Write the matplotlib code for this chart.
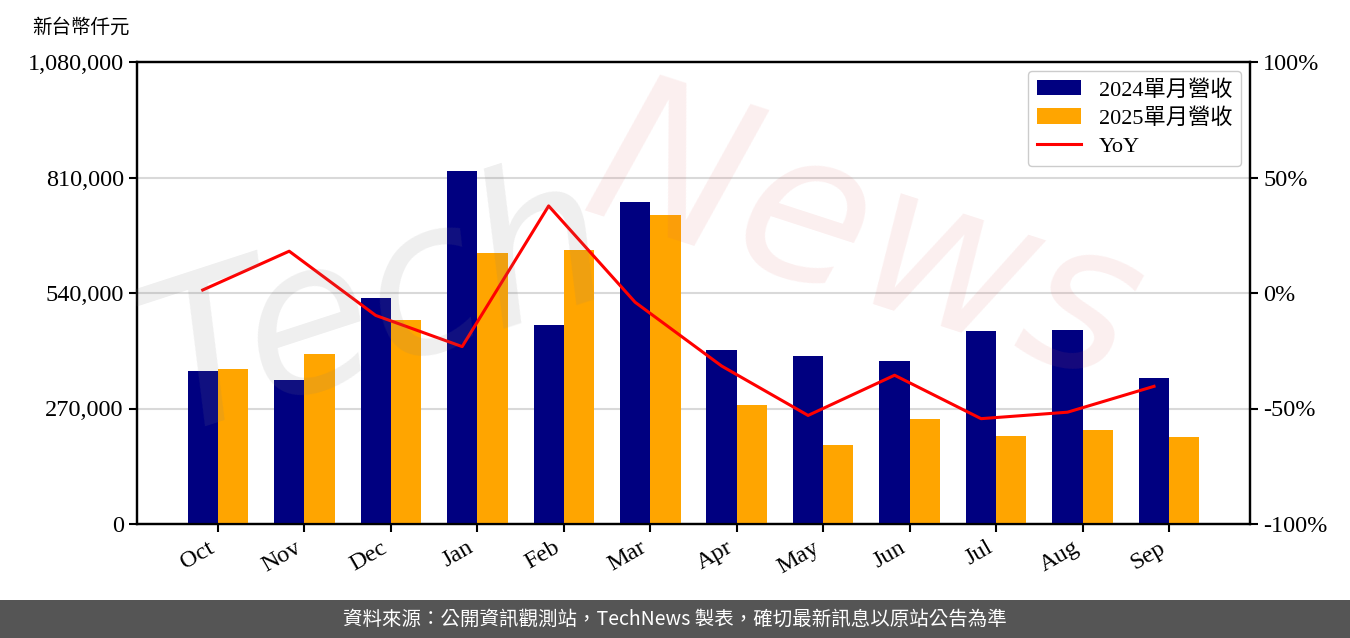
import numpy as np
import matplotlib
matplotlib.use("Agg")
import matplotlib.pyplot as plt
from matplotlib.patches import Rectangle
from matplotlib.ticker import FuncFormatter

# === 資料 ===
meses = ["Oct", "Nov", "Dec", "Jan", "Feb", "Mar", "Apr", "May", "Jun", "Jul", "Aug", "Sep"]
receita_2024 = [357700, 336600, 528300, 825200, 465200, 752700, 406800, 392700, 381000, 451200, 453500, 341300]
receita_2025 = [362300, 397400, 476900, 633500, 640500, 722400, 278200, 184700, 245500, 205700, 219700, 203400]
yoy = [1.3, 18.1, -9.7, -23.2, 37.7, -4.0, -31.6, -53.0, -35.6, -54.4, -51.6, -40.4]

plt.rcParams["font.family"] = ["Liberation Serif", "Noto Sans CJK TC"]

fig = plt.figure(figsize=(13.5, 6.38), dpi=100)
ax = fig.add_axes([137 / 1350, 1 - 524 / 638, 1113 / 1350, 462 / 638])
ax2 = ax.twinx()

x = np.arange(len(meses))
w = 0.35

ax.bar(x, receita_2024, w, color="#000080", label="2024單月營收", zorder=3)
ax.bar(x + w, receita_2025, w, color="#FFA500", label="2025單月營收", zorder=3)
linha, = ax2.plot(x, yoy, color="red", lw=2.2, label="YoY", zorder=4)

ax.set_ylim(0, 1080000)
ax.set_yticks([0, 270000, 540000, 810000, 1080000])
ax.yaxis.set_major_formatter(FuncFormatter(lambda v, p: f"{int(v):,}"))
ax.grid(axis="y", color="#d9d9d9", lw=1.5, zorder=0)
ax.set_xticks(x + w / 2)
ax.set_xticklabels(meses, rotation=30, ha="right")

ax2.set_ylim(-100, 100)
ax2.set_yticks([-100, -50, 0, 50, 100])
ax2.yaxis.set_major_formatter(FuncFormatter(lambda v, p: f"{int(v)}%"))

for a in (ax, ax2):
    for s in a.spines.values():
        s.set_linewidth(1.6)
    a.tick_params(labelsize=17.5, width=1.5, length=6)

# === Legenda ===
h1, l1 = ax.get_legend_handles_labels()
ax2.legend(h1 + [linha], l1 + ["YoY"], loc="upper right", fontsize=16,
           edgecolor="#cccccc", framealpha=1, handlelength=2.0,
           labelspacing=0.35, borderaxespad=0.4)

fig.text(32 / 1350, 1 - 27 / 638, "新台幣仟元", fontsize=14, va="center", ha="left")

# === Marca d'água ===
fig.text(0.28, 0.52, "Tech", fontsize=150, color="#808080", alpha=0.13,
         rotation=18, ha="center", va="center", style="italic", family="DejaVu Sans", zorder=10)
fig.text(0.64, 0.62, "News", fontsize=150, color="#e06060", alpha=0.10,
         rotation=-18, ha="center", va="center", style="italic", family="DejaVu Sans", zorder=10)

# === Rodapé ===
fig.patches.append(Rectangle((0, 0), 1, 38 / 638, transform=fig.transFigure,
                             facecolor="#555555", edgecolor="none"))
fig.text(0.5, 19 / 638, "資料來源：公開資訊觀測站，TechNews 製表，確切最新訊息以原站公告為準",
         color="white", fontsize=14, ha="center", va="center",
         family=["Noto Sans CJK TC", "DejaVu Sans"])

fig.savefig("out.png", dpi=100)
